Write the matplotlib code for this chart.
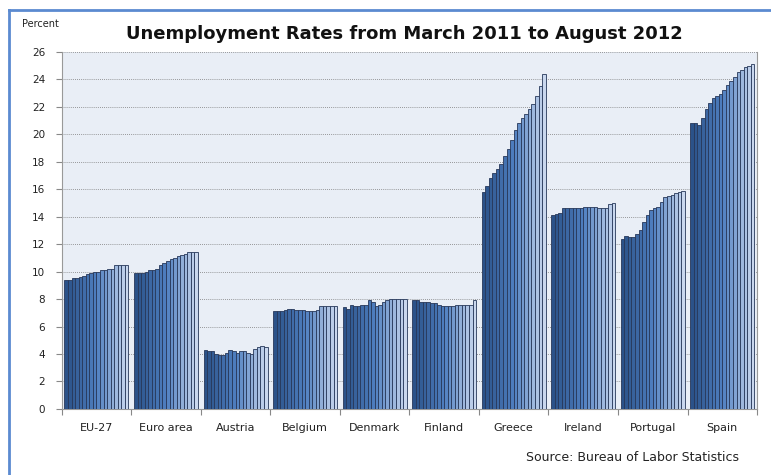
import matplotlib.pyplot as plt
import matplotlib.colors as mcolors
import numpy as np

# monthly unemployment rates, March 2011 .. August 2012 (18 months)
countries = ["EU-27", "Euro area", "Austria", "Belgium", "Denmark",
             "Finland", "Greece", "Ireland", "Portugal", "Spain"]

eu27 = [9.4, 9.4, 9.5, 9.5, 9.6, 9.7, 9.8, 9.9, 10.0, 10.0, 10.1, 10.1, 10.2, 10.2, 10.5, 10.5, 10.5, 10.5]
euro_area = [9.9, 9.9, 9.9, 10.0, 10.1, 10.1, 10.2, 10.5, 10.6, 10.8, 10.9, 11.0, 11.1, 11.2, 11.3, 11.4, 11.4, 11.4]
austria = [4.3, 4.2, 4.2, 4.0, 3.9, 3.9, 4.1, 4.3, 4.2, 4.1, 4.2, 4.2, 4.1, 4.0, 4.4, 4.5, 4.6, 4.5]
belgium = [7.1, 7.1, 7.1, 7.2, 7.3, 7.3, 7.2, 7.2, 7.2, 7.1, 7.1, 7.1, 7.2, 7.5, 7.5, 7.5, 7.5, 7.5]
denmark = [7.4, 7.3, 7.6, 7.5, 7.5, 7.6, 7.6, 7.9, 7.8, 7.5, 7.6, 7.8, 7.9, 8.0, 8.0, 8.0, 8.0, 8.0]
finland = [7.9, 7.9, 7.8, 7.8, 7.8, 7.7, 7.7, 7.6, 7.5, 7.5, 7.5, 7.5, 7.6, 7.6, 7.6, 7.6, 7.6, 7.9]
greece = [15.8, 16.2, 16.8, 17.2, 17.5, 17.8, 18.4, 18.9, 19.6, 20.3, 20.8, 21.2, 21.5, 21.8, 22.2, 22.8, 23.5, 24.4]
ireland = [14.1, 14.2, 14.3, 14.6, 14.6, 14.6, 14.6, 14.6, 14.6, 14.7, 14.7, 14.7, 14.7, 14.6, 14.6, 14.6, 14.9, 15.0]
portugal = [12.4, 12.6, 12.5, 12.5, 12.7, 13.0, 13.6, 14.1, 14.5, 14.6, 14.7, 15.1, 15.4, 15.5, 15.6, 15.7, 15.8, 15.9]
spain = [20.8, 20.8, 20.7, 21.2, 21.8, 22.3, 22.6, 22.8, 22.9, 23.2, 23.6, 23.9, 24.2, 24.5, 24.7, 24.9, 25.0, 25.1]

series = [eu27, euro_area, austria, belgium, denmark, finland, greece, ireland, portugal, spain]

fig = plt.figure(figsize=(7.71, 4.75), dpi=100)
ax = fig.add_axes([0.080, 0.139, 0.902, 0.752])
ax.set_facecolor("#e9eef6")

# dark to light blue across the months
cmap = mcolors.LinearSegmentedColormap.from_list("blues", ["#2b5289", "#4f7fc0", "#c9d7ee"])
n = len(eu27)
fill = 0.92
w = fill / n
for i, vals in enumerate(series):
    for j, v in enumerate(vals):
        x = i + (1 - fill) / 2 + (j + 0.5) * w
        ax.bar(x, v, width=w, color=cmap(j / (n - 1)), edgecolor="#27385a", linewidth=0.6, zorder=3)

ax.set_xlim(0, len(countries))
ax.set_ylim(0, 26)
ax.set_yticks(np.arange(0, 27, 2))
ax.yaxis.grid(True, linestyle=(0, (1, 1.5)), color="#7a7a7a", linewidth=0.6, zorder=0)

ax.set_xticks(np.arange(0, len(countries) + 1))
ax.set_xticklabels([])
ax.set_xticks(np.arange(len(countries)) + 0.5, minor=True)
ax.set_xticklabels(countries, minor=True)
ax.tick_params(axis="x", which="minor", length=0, pad=10, labelsize=8, colors="#222222")
ax.tick_params(axis="x", which="major", length=4, color="#888888")
ax.tick_params(axis="y", length=4, color="#888888", labelsize=7.5, colors="#222222", pad=8)
ax.spines["top"].set_visible(False)
for side in ["left", "bottom", "right"]:
    ax.spines[side].set_color("#999999")

fig.text(0.525, 0.928, "Unemployment Rates from March 2011 to August 2012",
         ha="center", va="center", fontsize=13, fontweight="bold", color="#111111")
fig.text(0.029, 0.949, "Percent", ha="left", va="center", fontsize=7, color="#222222")
fig.text(0.958, 0.037, "Source: Bureau of Labor Statistics", ha="right", va="center",
         fontsize=9, color="#222222")

# blue frame on the left and top
fig.add_artist(plt.Line2D([0.0117, 0.0117], [0.0, 0.979], transform=fig.transFigure, color="#5b8ad0", linewidth=2))
fig.add_artist(plt.Line2D([0.0117, 1.0], [0.979, 0.979], transform=fig.transFigure, color="#5b8ad0", linewidth=2))

fig.savefig("out.png", dpi=100)
